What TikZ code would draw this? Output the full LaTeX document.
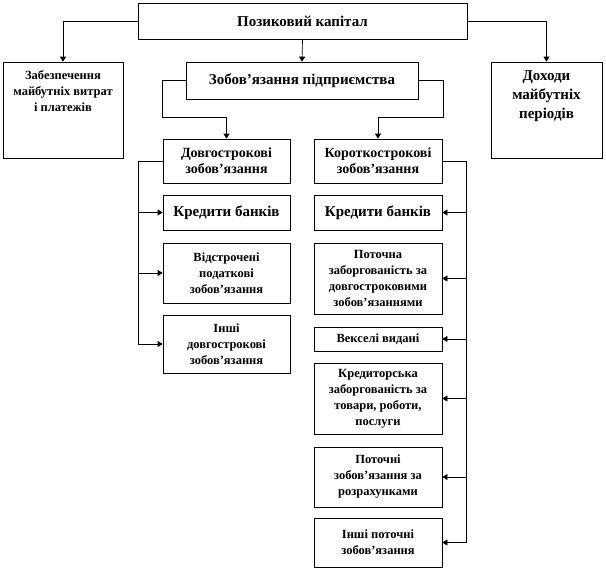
\documentclass[tikz,border=0pt]{standalone}
\usepackage{fontspec}
\setmainfont{Liberation Serif}
\usetikzlibrary{arrows.meta}
\begin{document}
\begin{tikzpicture}[x=1pt,y=-1pt,
  box/.style={draw=black, line width=0.7pt, fill=white, inner sep=1pt, align=center},
  bigf/.style={font=\fontsize{15}{19}\selectfont\bfseries},
  medf/.style={font=\fontsize{14}{16}\selectfont\bfseries},
  smf/.style={font=\fontsize{12.5}{16}\selectfont\bfseries},
  conn/.style={draw=black, line width=0.7pt},
  arr/.style={conn, -{Triangle[length=5pt,width=6pt]}}]
\useasboundingbox (0,0) rectangle (606,570);

\node[box, bigf, minimum width=329pt, minimum height=36pt] (top) at (302.5,21) {Позиковий капітал};
\node[box, minimum width=120pt, minimum height=96pt,
  label={[anchor=north, yshift=-5pt, align=center, smf]north:{Забезпечення\\майбутніх витрат\\і платежів}}] (left) at (63,110) {};
\node[box, bigf, minimum width=232pt, minimum height=37pt] (mid) at (302,80.5) {Зобов’язання підприємства};
\node[box, minimum width=111pt, minimum height=96pt,
  label={[anchor=north, yshift=-5pt, align=center, bigf]north:{Доходи\\майбутніх\\періодів}}] (right) at (546.5,110) {};

\node[box, medf, minimum width=127pt, minimum height=44pt] (L0) at (226.5,161) {Довгострокові\\зобов’язання};
\node[box, medf, minimum width=128pt, minimum height=44pt] (R0) at (378,161) {Короткострокові\\зобов’язання};

\node[box, bigf, minimum width=127pt, minimum height=35pt] (L1) at (226.5,212.5) {Кредити банків};
\node[box, smf, minimum width=127pt, minimum height=60pt] (L2) at (226.5,273) {Відстрочені\\податкові\\зобов’язання};
\node[box, smf, minimum width=127pt, minimum height=58pt] (L3) at (226.5,344) {Інші\\довгострокові\\зобов’язання};

\node[box, bigf, minimum width=128pt, minimum height=35pt] (R1) at (378,212.5) {Кредити банків};
\node[box, smf, minimum width=128pt, minimum height=71pt] (R2) at (378,278.5) {Поточна\\заборгованість за\\довгостроковими\\зобов’язаннями};
\node[box, smf, minimum width=128pt, minimum height=24pt] (R3) at (378,339) {Векселі видані};
\node[box, smf, minimum width=128pt, minimum height=71pt] (R4) at (378,398.5) {Кредиторська\\заборгованість за\\товари, роботи,\\послуги};
\node[box, smf, minimum width=128pt, minimum height=60pt] (R5) at (378,477) {Поточні\\зобов’язання за\\розрахунками};
\node[box, smf, minimum width=128pt, minimum height=49pt] (R6) at (378,542.5) {Інші поточні\\зобов’язання};

\coordinate (lk) at (162,117);
\coordinate (rk) at (443,117);
\coordinate (lbx) at (138,0);
\coordinate (rbx) at (466,0);

\draw[arr] (top.west) -| (left.north);
\draw[arr] (top.east) -| (right.north);
\draw[arr] (top.south) -- (mid.north);
\draw[arr] (mid.west) -| (lk) -| (L0.north);
\draw[arr] (mid.east) -| (rk) -| (R0.north);

\draw[conn] (L0.west) -- (L0.west -| lbx) -- (L3.west -| lbx);
\foreach \n in {L1,L2,L3} \draw[arr] (\n.west -| lbx) -- (\n.west);
\draw[conn] (R0.east) -- (R0.east -| rbx) -- (R6.east -| rbx);
\foreach \n in {R1,R2,R3,R4,R5,R6} \draw[arr] (\n.east -| rbx) -- (\n.east);
\end{tikzpicture}
\end{document}
